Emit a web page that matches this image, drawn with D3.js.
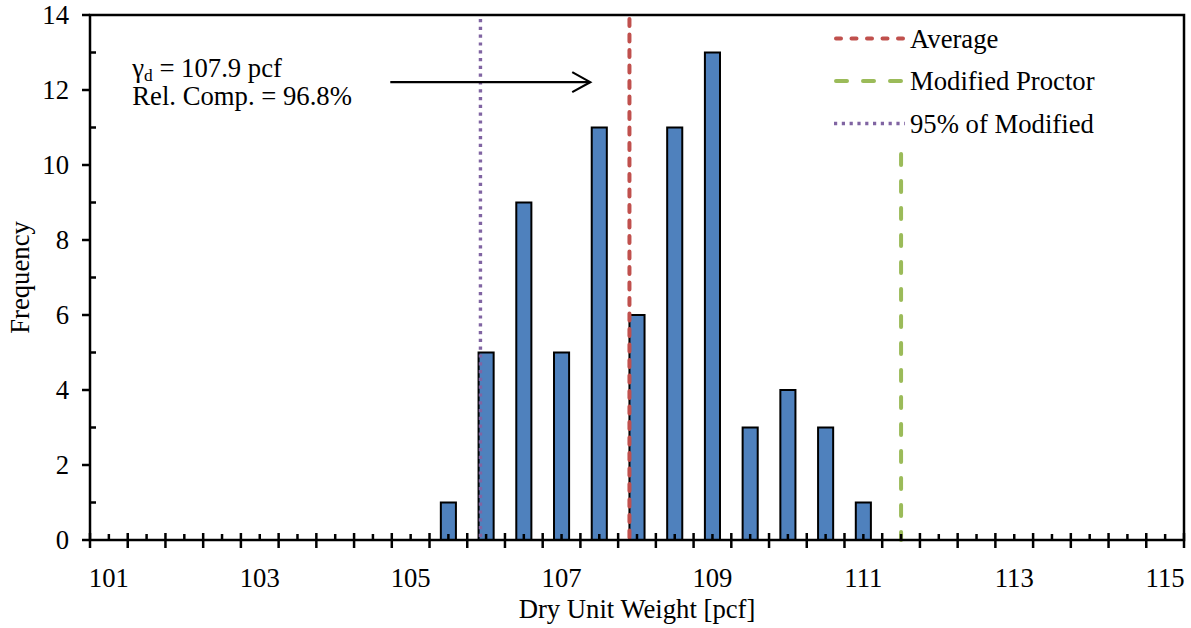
<!DOCTYPE html>
<html>
<head>
<meta charset="utf-8">
<script src="https://cdn.jsdelivr.net/npm/d3@7"></script>
<style>
  html, body { margin: 0; padding: 0; background: #fff; }
  svg { display: block; }
  text { font-family: "Liberation Serif", "Times New Roman", serif; fill: #000; }
</style>
</head>
<body>
<svg id="chart" width="1191" height="628"></svg>
<script>
// ---- data ----
const categories = [105.5, 106, 106.5, 107, 107.5, 108, 108.5, 109, 109.5, 110, 110.5, 111];
const frequency  = [1, 5, 9, 5, 11, 6, 11, 13, 3, 4, 3, 1];
const xTickLabels = [101, 103, 105, 107, 109, 111, 113, 115];
const yTickLabels = [0, 2, 4, 6, 8, 10, 12, 14];
const averageValue = 107.9;
const modifiedProctor = 111.5;
const percent95 = 0.95 * modifiedProctor;
const legendLabels = ["Average", "Modified Proctor", "95% of Modified"];
const annotationLines = ["= 107.9 pcf", "Rel. Comp. = 96.8%"];

// ---- layout ----
const pL = 90, pR = 1184, pT = 15, pB = 540;
const FS = 26.7;
const svg = d3.select("#chart");

const x = d3.scaleLinear().domain([100.75, 115.25]).range([pL, pR]);
const y = d3.scaleLinear().domain([0, 14]).range([pB, pT]);
const barW = x(100.95) - x(100.75);

// bars
svg.append("g").selectAll("rect").data(categories).join("rect")
  .attr("x", (d) => x(d) - barW / 2)
  .attr("y", (d, i) => y(frequency[i]))
  .attr("width", barW)
  .attr("height", (d, i) => y(0) - y(frequency[i]))
  .attr("fill", "#4F81BD")
  .attr("stroke", "#000")
  .attr("stroke-width", 2);

// vertical reference lines
const refLines = [
  {v: averageValue, color: "#C0504D", dash: "7,8.5", ldash: "5,10.5", w: 4, cap: "round"},
  {v: modifiedProctor, color: "#9BBB59", dash: "11,16", ldash: "11,16", w: 4, cap: "round"},
  {v: percent95, color: "#8064A2", dash: "3.2,4.6", ldash: "3.2,4.6", w: 3.4, cap: "butt"}
];
svg.append("g").selectAll("line").data(refLines).join("line")
  .attr("x1", d => x(d.v)).attr("x2", d => x(d.v))
  .attr("y1", y(14) + 4).attr("y2", y(0))
  .attr("stroke", d => d.color)
  .attr("stroke-width", d => d.w)
  .attr("stroke-dasharray", d => d.dash)
  .attr("stroke-linecap", d => d.cap);

// legend (white background box)
const lg = svg.append("g");
lg.append("rect").attr("x", 826).attr("y", pT + 2).attr("width", 355).attr("height", 131).attr("fill", "#fff");
const legendY = [38.5, 81, 123.5];
legendLabels.forEach((lab, i) => {
  const s = refLines[i];
  lg.append("line")
    .attr("x1", s.cap === "round" ? 836 : 834).attr("x2", 905)
    .attr("y1", legendY[i]).attr("y2", legendY[i])
    .attr("stroke", s.color).attr("stroke-width", s.w)
    .attr("stroke-dasharray", s.ldash)
    .attr("stroke-linecap", s.cap);
  lg.append("text").attr("x", 910).attr("y", legendY[i] + 9)
    .attr("font-size", FS).text(lab);
});

// axes frame
svg.append("rect").attr("x", pL).attr("y", pT).attr("width", pR - pL).attr("height", pB - pT)
  .attr("fill", "none").attr("stroke", "#000").attr("stroke-width", 2.5);

// x axis ticks
const majorX = d3.range(0, 30).map(i => 100.75 + 0.5 * i);
const minorX = d3.range(0, 29).map(i => 101 + 0.5 * i);
const xa = svg.append("g");
xa.selectAll("line.maj").data(majorX).join("line").attr("class", "maj")
  .attr("x1", d => x(d)).attr("x2", d => x(d)).attr("y1", pB - 7).attr("y2", pB + 8)
  .attr("stroke", "#000").attr("stroke-width", 2.5);
xa.selectAll("line.min").data(minorX).join("line").attr("class", "min")
  .attr("x1", d => x(d)).attr("x2", d => x(d)).attr("y1", pB - 6).attr("y2", pB)
  .attr("stroke", "#000").attr("stroke-width", 2.5);
xa.selectAll("text").data(xTickLabels).join("text")
  .attr("x", d => x(d)).attr("y", 587).attr("text-anchor", "middle")
  .attr("font-size", FS).text(d => d);

// y axis ticks
const ya = svg.append("g");
ya.selectAll("line.maj").data(yTickLabels).join("line").attr("class", "maj")
  .attr("x1", pL - 8).attr("x2", pL).attr("y1", d => y(d)).attr("y2", d => y(d))
  .attr("stroke", "#000").attr("stroke-width", 2.5);
ya.selectAll("line.min").data(d3.range(1, 14, 2)).join("line").attr("class", "min")
  .attr("x1", pL).attr("x2", pL + 6).attr("y1", d => y(d)).attr("y2", d => y(d))
  .attr("stroke", "#000").attr("stroke-width", 2.5);
ya.selectAll("text").data(yTickLabels).join("text")
  .attr("x", 69).attr("y", d => y(d) + 9).attr("text-anchor", "end")
  .attr("font-size", FS).text(d => d);

// axis titles
svg.append("text").attr("x", (pL + pR) / 2).attr("y", 618).attr("text-anchor", "middle")
  .attr("font-size", FS).text("Dry Unit Weight [pcf]");
svg.append("text").attr("transform", `translate(29,${(pT + pB) / 2}) rotate(-90)`)
  .attr("text-anchor", "middle").attr("font-size", FS).text("Frequency");

// annotation
const ann = svg.append("g");
const t1 = ann.append("text").attr("x", x(101.31)).attr("y", 77).attr("font-size", FS);
t1.append("tspan").text("γ");
t1.append("tspan").attr("font-size", FS * 0.65).attr("dy", 4).text("d");
t1.append("tspan").attr("dy", -4).text(" " + annotationLines[0]);
ann.append("text").attr("x", x(101.31)).attr("y", 105).attr("font-size", FS).text(annotationLines[1]);

// arrow (in data coordinates)
const ay = y(12.21);
const ax0 = x(104.73), ax1 = x(107.38);
ann.append("line").attr("x1", ax0).attr("x2", ax1).attr("y1", ay).attr("y2", ay)
  .attr("stroke", "#000").attr("stroke-width", 2.2);
ann.append("path").attr("d", `M${ax1 - 18},${ay - 10}L${ax1},${ay}L${ax1 - 18},${ay + 10}`)
  .attr("fill", "none").attr("stroke", "#000").attr("stroke-width", 2.2);
</script>
</body>
</html>
